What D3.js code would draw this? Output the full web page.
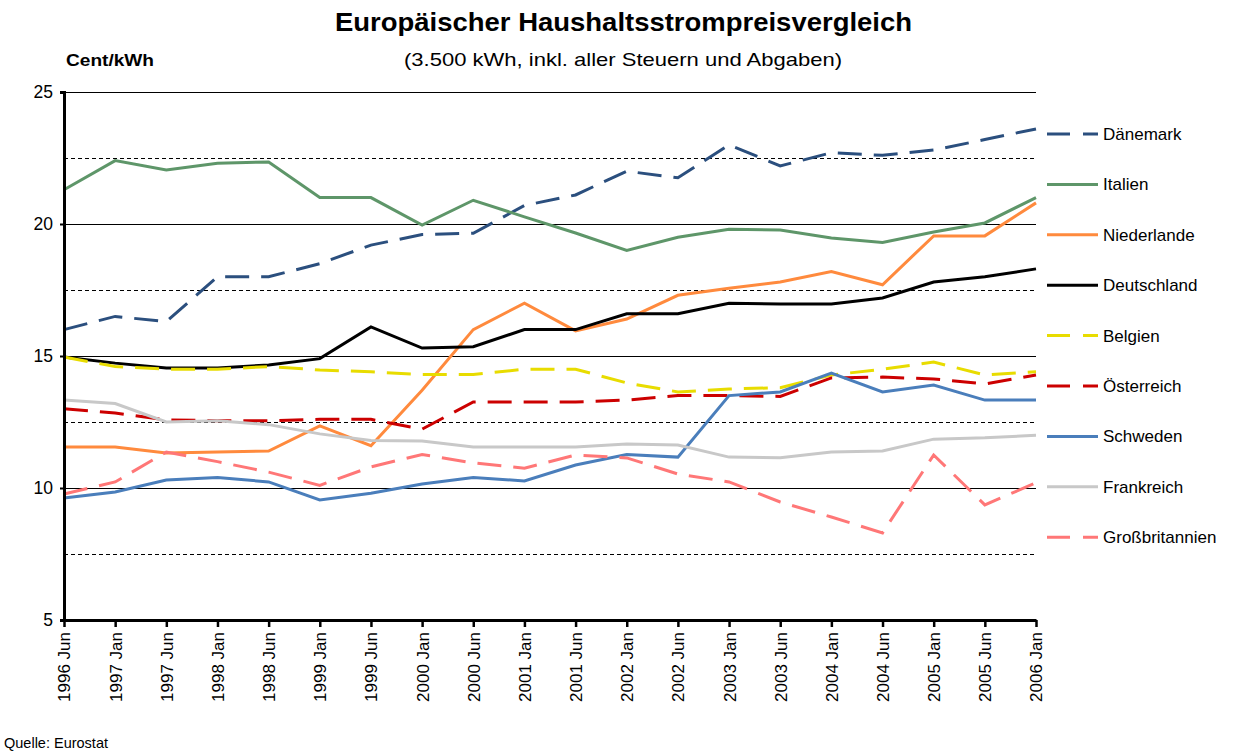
<!DOCTYPE html>
<html>
<head>
<meta charset="utf-8">
<script src="https://cdn.jsdelivr.net/npm/d3@7"></script>
<style>
  body { margin: 0; background: #fff; }
  svg { font-family: Arial, "Liberation Sans", sans-serif; }
</style>
</head>
<body>
<div id="chart"></div>
<script>
// data
const periods = ["1996 Jun", "1997 Jan", "1997 Jun", "1998 Jan", "1998 Jun", "1999 Jan", "1999 Jun",
  "2000 Jan", "2000 Jun", "2001 Jan", "2001 Jun", "2002 Jan", "2002 Jun", "2003 Jan", "2003 Jun",
  "2004 Jan", "2004 Jun", "2005 Jan", "2005 Jun", "2006 Jan"];

const daenemark = [16.0, 16.5, 16.3, 18.0, 18.0, 18.5, 19.2, 19.6, 19.65, 20.7, 21.1, 22.0, 21.75, 23.0, 22.2, 22.7, 22.6, 22.8, 23.2, 23.6];
const italien = [21.3, 22.4, 22.05, 22.3, 22.35, 21.0, 21.0, 19.96, 20.9, 20.27, 19.66, 19.0, 19.5, 19.8, 19.77, 19.47, 19.3, 19.7, 20.04, 21.0];
const niederlande = [11.55, 11.55, 11.33, 11.36, 11.4, 12.35, 11.6, 13.7, 16.0, 17.0, 15.95, 16.4, 17.3, 17.57, 17.8, 18.2, 17.7, 19.55, 19.55, 20.8];
const deutschland = [14.96, 14.73, 14.55, 14.55, 14.66, 14.9, 16.1, 15.3, 15.35, 16.0, 16.0, 16.6, 16.6, 17.0, 16.97, 16.97, 17.2, 17.8, 18.0, 18.3];
const belgien = [14.96, 14.6, 14.5, 14.5, 14.6, 14.47, 14.4, 14.3, 14.3, 14.5, 14.5, 13.98, 13.64, 13.75, 13.8, 14.28, 14.5, 14.77, 14.28, 14.4];
const oesterreich = [13.0, 12.84, 12.58, 12.55, 12.55, 12.6, 12.6, 12.23, 13.26, 13.26, 13.26, 13.33, 13.5, 13.5, 13.47, 14.17, 14.2, 14.13, 13.94, 14.28];
const schweden = [9.62, 9.85, 10.3, 10.4, 10.23, 9.55, 9.8, 10.15, 10.4, 10.27, 10.87, 11.27, 11.17, 13.5, 13.64, 14.35, 13.64, 13.9, 13.33, 13.33];
const frankreich = [13.33, 13.2, 12.5, 12.55, 12.4, 12.05, 11.8, 11.78, 11.55, 11.55, 11.55, 11.67, 11.63, 11.17, 11.15, 11.36, 11.4, 11.85, 11.9, 12.0];
const grossbritannien = [9.77, 10.23, 11.36, 11.0, 10.6, 10.1, 10.8, 11.27, 10.95, 10.75, 11.25, 11.14, 10.53, 10.23, 9.47, 8.9, 8.3, 11.25, 9.36, 10.2];

const yTicks = [5, 10, 15, 20, 25];
const yHalfTicks = [7.5, 12.5, 17.5, 22.5];

const series = [
  {name: "Dänemark", values: daenemark, color: "#2B4F7E", dashed: true},
  {name: "Italien", values: italien, color: "#5E9669", dashed: false},
  {name: "Niederlande", values: niederlande, color: "#FF8A3D", dashed: false},
  {name: "Deutschland", values: deutschland, color: "#000000", dashed: false},
  {name: "Belgien", values: belgien, color: "#E8DC00", dashed: true},
  {name: "Österreich", values: oesterreich, color: "#CC0000", dashed: true},
  {name: "Schweden", values: schweden, color: "#4A7EBB", dashed: false},
  {name: "Frankreich", values: frankreich, color: "#C8C8C8", dashed: false},
  {name: "Großbritannien", values: grossbritannien, color: "#FF7777", dashed: true}
];

const width = 1237, height = 754;
const margin = {top: 92, right: 201, bottom: 134, left: 64};
const font = "Arial, 'Liberation Sans', sans-serif";

const svg = d3.select("#chart").append("svg")
  .attr("width", width)
  .attr("height", height);

const x = d3.scalePoint()
  .domain(periods)
  .range([margin.left, width - margin.right]);

const y = d3.scaleLinear()
  .domain([5, 25])
  .range([height - margin.bottom, margin.top]);

// titles (the reference is stretched sideways, so fix the widths)
svg.append("text")
  .attr("x", 335).attr("y", 31)
  .attr("font-size", 26).attr("font-weight", "bold")
  .attr("textLength", 577).attr("lengthAdjust", "spacingAndGlyphs")
  .text("Europäischer Haushaltsstrompreisvergleich");

svg.append("text")
  .attr("x", 404).attr("y", 66)
  .attr("font-size", 18.5)
  .attr("textLength", 438).attr("lengthAdjust", "spacingAndGlyphs")
  .text("(3.500 kWh, inkl. aller Steuern und Abgaben)");

svg.append("text")
  .attr("x", 66).attr("y", 66)
  .attr("font-size", 16.5).attr("font-weight", "bold")
  .attr("textLength", 88).attr("lengthAdjust", "spacingAndGlyphs")
  .text("Cent/kWh");

// gridlines
svg.append("g")
  .attr("shape-rendering", "crispEdges")
  .selectAll("line")
  .data(yTicks.slice(1))
  .join("line")
    .attr("x1", margin.left).attr("x2", width - margin.right)
    .attr("y1", d => Math.round(y(d)) + 0.5).attr("y2", d => Math.round(y(d)) + 0.5)
    .attr("stroke", "#000").attr("stroke-width", 1);

svg.append("g")
  .attr("shape-rendering", "crispEdges")
  .selectAll("line")
  .data(yHalfTicks)
  .join("line")
    .attr("x1", margin.left).attr("x2", width - margin.right)
    .attr("y1", d => Math.round(y(d)) + 0.5).attr("y2", d => Math.round(y(d)) + 0.5)
    .attr("stroke", "#000").attr("stroke-width", 1)
    .attr("stroke-dasharray", "4,3");

// lines
const line = d3.line()
  .x((d, i) => x(periods[i]))
  .y(d => y(d));

svg.append("g")
  .selectAll("path")
  .data(series)
  .join("path")
    .attr("d", d => line(d.values))
    .attr("fill", "none")
    .attr("stroke", d => d.color)
    .attr("stroke-width", 3)
    .attr("stroke-dasharray", d => d.dashed ? "24,12" : null);

// axes
const yAxis = d3.axisLeft(y).tickValues(yTicks).tickSize(4).tickPadding(7);
svg.append("g")
  .attr("transform", `translate(${margin.left},0)`)
  .call(yAxis)
  .call(g => g.select(".domain").attr("stroke", "#000").attr("stroke-width", 3))
  .call(g => g.selectAll(".tick line").attr("stroke-width", 2))
  .call(g => g.selectAll(".tick text").attr("font-size", 17.5).attr("font-family", font).attr("fill", "#000"));

const xAxis = d3.axisBottom(x).tickSize(7).tickSizeOuter(0);
svg.append("g")
  .attr("transform", `translate(0,${height - margin.bottom})`)
  .call(xAxis)
  .call(g => g.select(".domain").attr("stroke", "#000").attr("stroke-width", 3))
  .call(g => g.selectAll(".tick line").attr("stroke-width", 2.5))
  .call(g => g.selectAll(".tick text")
    .attr("font-size", 17).attr("font-family", font).attr("fill", "#000")
    .attr("transform", "rotate(-90)")
    .attr("text-anchor", "end")
    .attr("x", -12).attr("y", 0).attr("dy", "0.35em"));

// legend
const legend = svg.append("g")
  .selectAll("g")
  .data(series)
  .join("g")
    .attr("transform", (d, i) => `translate(1047,${134 + i * 50.4})`);

legend.append("line")
  .attr("x1", 0).attr("x2", 51)
  .attr("stroke", d => d.color)
  .attr("stroke-width", 3)
  .attr("stroke-dasharray", d => d.dashed ? "23,13" : null);

legend.append("text")
  .attr("x", 56).attr("dy", "0.35em")
  .attr("font-size", 17)
  .text(d => d.name);

svg.append("text")
  .attr("x", 4).attr("y", 748)
  .attr("font-size", 14.5)
  .text("Quelle: Eurostat");
</script>
</body>
</html>
